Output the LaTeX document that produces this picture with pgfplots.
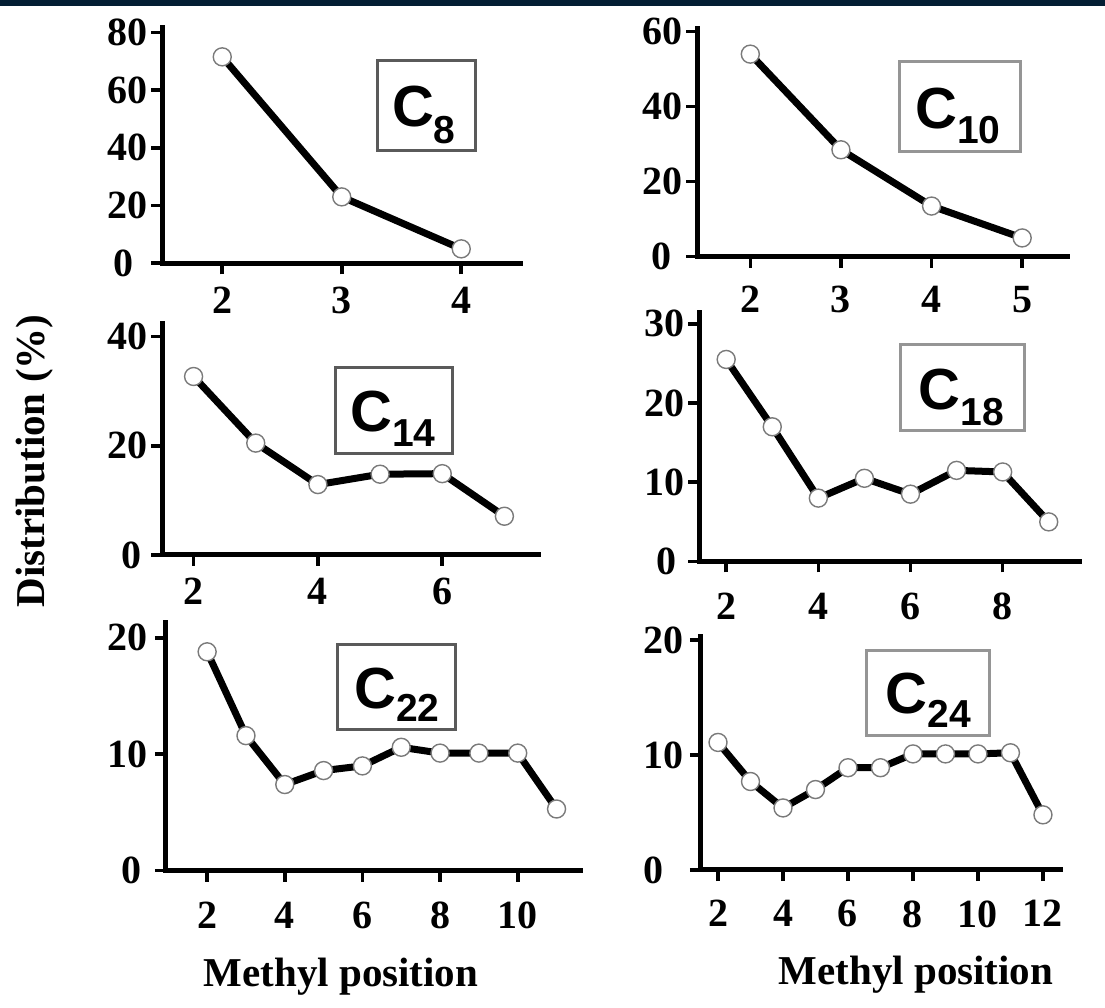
\documentclass[border=0pt]{standalone}
\usepackage{fontspec}
\setmainfont{Liberation Serif}
\newfontfamily\arial{Liberation Sans}
\usepackage{pgfplots}
\pgfplotsset{compat=1.18}
\definecolor{navy}{HTML}{031E33}
\definecolor{boxdark}{HTML}{5A5A5A}
\definecolor{boxlight}{HTML}{959595}
\definecolor{mkgray}{HTML}{7A7A7A}
\pgfplotsset{
  panel/.style={
    scale only axis,
    anchor=south west,
    axis x line*=bottom, axis y line*=left,
    axis line style={-, line width=2.5pt, black, line cap=rect},
    ymin=0,
    tick align=outside,
    major tick length=5.5pt,
    tick style={line width=1.8pt, black},
    tick label style={font=\fontsize{20}{20}\selectfont\bfseries},
    /pgf/number format/assume math mode=true,
    xticklabel style={anchor=north, inner sep=0pt},
    yticklabel style={anchor=east, inner sep=0pt},
    clip=false,
  },
  data/.style={line width=3.5pt, black, mark=*, mark size=4.5pt,
    mark options={fill=white, draw=mkgray, line width=0.7pt}},
}
\newcommand{\clab}[3]{{\arial\bfseries{\fontsize{29}{29}\selectfont C}\raisebox{-#2pt}{\fontsize{19.5}{19.5}\selectfont #1}}}
\begin{document}
\begin{tikzpicture}
\fill[white] (0,0) rectangle (552.5pt,504pt);
\fill[navy] (0,501pt) rectangle (552.5pt,504pt);

% C8
\begin{axis}[panel, at={(81.25pt,372.35pt)}, width=179.25pt, height=117.65pt,
  xmin=1.5, xmax=4.5, ymax=81.5, xtick={2,3,4}, ytick={20,40,60,80},
  extra y ticks={0}, extra y tick style={yticklabel style={xshift=-7pt}},
  yticklabel style={xshift=-1.75pt}, xticklabel style={yshift=-6pt}]
\addplot[data] coordinates {(2,71.5) (3,23) (4,5)};
\end{axis}

% C10
\begin{axis}[panel, at={(348.65pt,375.65pt)}, width=185.1pt, height=113.85pt,
  xmin=1.415, xmax=5.5, ymax=60.7, xtick={2,3,4,5}, ytick={20,40,60},
  extra y ticks={0}, extra y tick style={yticklabel style={xshift=-5.5pt}},
  yticklabel style={xshift=-1.5pt}, xticklabel style={yshift=-9pt}]
\addplot[data] coordinates {(2,54) (3,28.5) (4,13.5) (5,5)};
\end{axis}

% C14
\begin{axis}[panel, at={(81.25pt,226.5pt)}, width=188.05pt, height=116pt,
  xmin=1.5, xmax=7.55, ymax=42.5, xtick={2,4,6}, ytick={20,40},
  extra y ticks={0}, extra y tick style={yticklabel style={xshift=-3pt}},
  yticklabel style={xshift=-1.75pt}, xticklabel style={yshift=-6pt}]
\addplot[data] coordinates {(2,32.7) (3,20.5) (4,12.9) (5,14.8) (6,14.9) (7,7.1)};
\end{axis}

% C18
\begin{axis}[panel, at={(349.5pt,223.25pt)}, width=190.3pt, height=124.4pt,
  xmin=1.41, xmax=9.67, ymax=31.4, xtick={2,4,6,8}, ytick={10,20,30},
  extra y ticks={0}, extra y tick style={yticklabel style={xshift=-4.3pt}},
  yticklabel style={xshift=-1.5pt}, xticklabel style={yshift=-10pt}]
\addplot[data] coordinates {(2,25.5) (3,17) (4,8) (5,10.5) (6,8.5) (7,11.5) (8,11.3) (9,5)};
\end{axis}

% C22
\begin{axis}[panel, at={(83pt,68.65pt)}, width=207.5pt, height=124pt,
  xmin=0.94, xmax=11.63, ymax=21.3, xtick={2,4,6,8,10}, ytick={10,20},
  extra y ticks={0}, extra y tick style={yticklabel style={xshift=-3pt}},
  yticklabel style={xshift=-3.5pt}, xticklabel style={yshift=-10pt}]
\addplot[data] coordinates {(2,18.8) (3,11.6) (4,7.4) (5,8.6) (6,9.0) (7,10.6) (8,10.1) (9,10.1) (10,10.1) (11,5.3)};
\end{axis}

% C24
\begin{axis}[panel, at={(350.4pt,69pt)}, width=179.85pt, height=116.65pt,
  xmin=1.47, xmax=12.54, ymax=20.3, xtick={2,4,6,8,10,12}, ytick={10,20},
  extra y ticks={0}, extra y tick style={yticklabel style={xshift=-9.9pt}},
  yticklabel style={xshift=-3pt}, xticklabel style={yshift=-9.5pt}]
\addplot[data] coordinates {(2,11.1) (3,7.7) (4,5.4) (5,7.0) (6,8.9) (7,8.9) (8,10.1) (9,10.1) (10,10.1) (11,10.2) (12,4.8)};
\end{axis}

\begin{scope}[x=0.5pt,y=-0.5pt,shift={(0pt,504pt)}]
\draw[boxdark, line width=1.5pt] (377,61) rectangle (475,151);
\node[anchor=base west, inner sep=0pt] at (391.6,126.7) {\clab{8}{8.3}{}};
\draw[boxlight, line width=1.5pt] (899,61.7) rectangle (1020.5,151.7);
\node[anchor=base west, inner sep=0pt] at (915,128.3) {\clab{10}{7.5}{}};
\draw[boxdark, line width=1.5pt] (335,368) rectangle (452,454);
\node[anchor=base west, inner sep=0pt] at (350,431.7) {\clab{14}{7.5}{}};
\draw[boxlight, line width=1.5pt] (900.6,345) rectangle (1024,430.7);
\node[anchor=base west, inner sep=0pt] at (918.5,410) {\clab{18}{8}{}};
\draw[boxdark, line width=1.5pt] (337.5,645) rectangle (455.4,730);
\node[anchor=base west, inner sep=0pt] at (354,708.3) {\clab{22}{6.7}{}};
\draw[boxlight, line width=1.5pt] (866,650.7) rectangle (989,736);
\node[anchor=base west, inner sep=0pt] at (885.5,713.3) {\clab{24}{7}{}};
\node[rotate=90, anchor=base, inner sep=0pt, font=\fontsize{20.5}{20.5}\selectfont\bfseries] at (45,461) {Distribution (\%)};
\node[anchor=base, inner sep=0pt, font=\fontsize{20.5}{20.5}\selectfont\bfseries] at (341,987) {Methyl position};
\node[anchor=base, inner sep=0pt, font=\fontsize{20.5}{20.5}\selectfont\bfseries] at (916,985) {Methyl position};
\end{scope}
\end{tikzpicture}
\end{document}
